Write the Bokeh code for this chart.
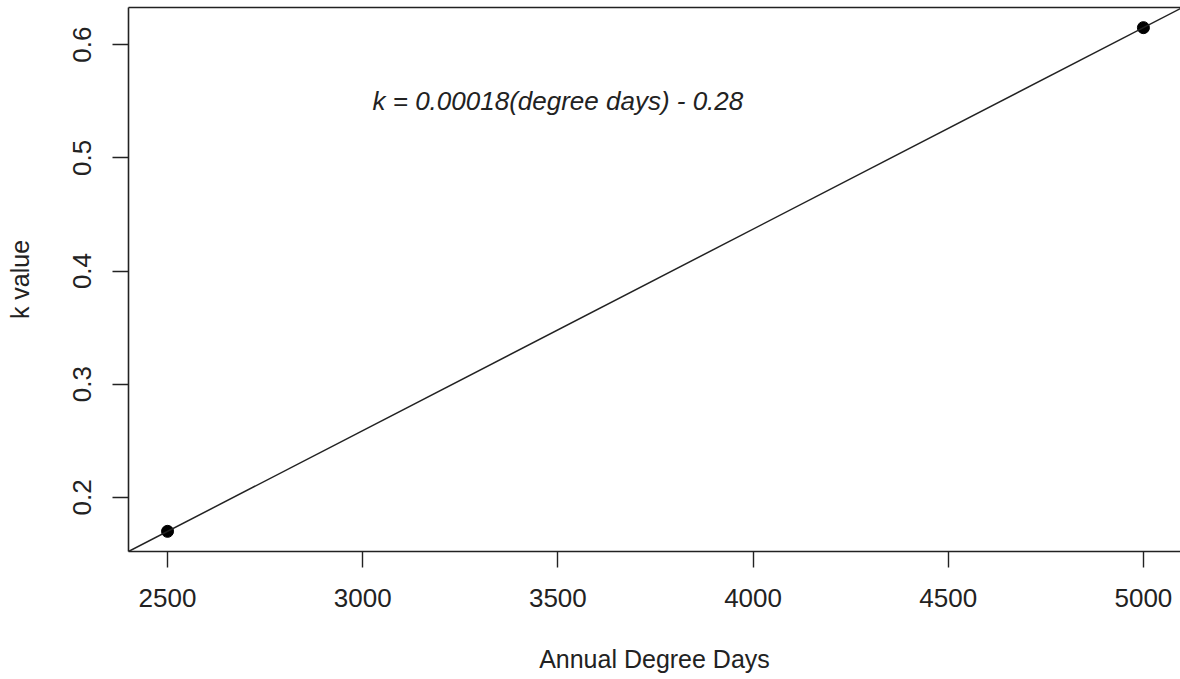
from bokeh.plotting import figure
from bokeh.models import Range1d, LinearAxis, FixedTicker, Slope, Label
from bokeh.embed import file_html
from bokeh.resources import INLINE

# Observed k values at two annual degree-day totals
degree_days = [2500, 5000]
k_values = [0.17, 0.615]

x_ticks = [2500, 3000, 3500, 4000, 4500, 5000]
y_ticks = [0.2, 0.3, 0.4, 0.5, 0.6]

equation = "k = 0.00018(degree days) - 0.28"
equation_pos = (3500, 0.55)

# Straight line through the two observations
gradient = (k_values[1] - k_values[0]) / (degree_days[1] - degree_days[0])
intercept = k_values[0] - gradient * degree_days[0]

# Axis limits padded 4% beyond the data, as in base R plots
x_pad = 0.04 * (degree_days[1] - degree_days[0])
y_pad = 0.04 * (k_values[1] - k_values[0])

FONT = "Liberation Sans"

p = figure(
    width=1180, height=679,
    x_range=Range1d(degree_days[0] - x_pad, 5095),
    y_range=Range1d(k_values[0] - y_pad, k_values[1] + y_pad),
    output_backend="svg", toolbar_location=None,
    x_axis_location=None, y_axis_location=None,
    min_border_left=128, min_border_right=0,
    min_border_top=7, min_border_bottom=128,
    background_fill_color="white", border_fill_color="white",
)
p.outline_line_color = None
p.grid.visible = False


def style_axis(ax):
    ax.axis_line_color = "#222222"
    ax.axis_line_width = 1.6
    ax.major_tick_line_color = "#222222"
    ax.major_tick_line_width = 1.4
    ax.major_tick_out = 16
    ax.major_tick_in = 0
    ax.minor_tick_line_color = None
    ax.major_label_text_font = FONT
    ax.major_label_text_font_size = "26px"
    ax.major_label_text_color = "#222222"
    ax.axis_label_text_font = FONT
    ax.axis_label_text_font_size = "25px"
    ax.axis_label_text_font_style = "normal"
    ax.axis_label_text_color = "#222222"


xaxis = LinearAxis(axis_label="Annual Degree Days", ticker=FixedTicker(ticks=x_ticks))
style_axis(xaxis)
xaxis.major_label_standoff = 21
xaxis.axis_label_standoff = 35
p.add_layout(xaxis, "below")

yaxis = LinearAxis(axis_label="k value", ticker=FixedTicker(ticks=y_ticks))
style_axis(yaxis)
yaxis.major_label_orientation = "vertical"
yaxis.major_label_standoff = 21
yaxis.axis_label_standoff = 37
p.add_layout(yaxis, "left")

# Top edge of the plotting box
top = LinearAxis(ticker=FixedTicker(ticks=[]))
top.axis_line_color = "#222222"
top.axis_line_width = 1.6
top.major_tick_line_color = None
top.minor_tick_line_color = None
top.major_label_text_font_size = "0px"
p.add_layout(top, "above")

p.add_layout(Slope(gradient=gradient, y_intercept=intercept,
                   line_color="#222222", line_width=1.5))

p.scatter(degree_days, k_values, size=12, color="black")

p.add_layout(Label(x=equation_pos[0], y=equation_pos[1], text=equation,
                   text_font=FONT, text_font_size="26px",
                   text_font_style="italic", text_color="#222222",
                   text_align="center", text_baseline="middle"))

open("out.html", "w").write(file_html(p, INLINE))
